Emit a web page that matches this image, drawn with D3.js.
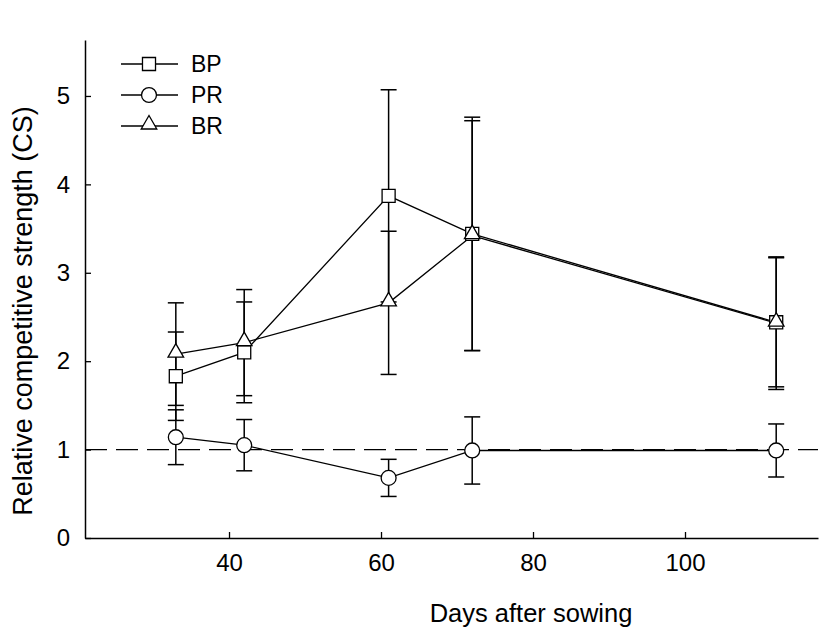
<!DOCTYPE html>
<html>
<head>
<meta charset="utf-8">
<script src="https://cdn.jsdelivr.net/npm/d3@7"></script>
<style>
  html, body { margin: 0; padding: 0; background: #fff; }
  svg text { font-family: "Liberation Sans", Arial, sans-serif; fill: #000; }
</style>
</head>
<body>
<svg id="chart" width="828" height="628"></svg>
<script>
// Days after sowing at which competitive strength was measured
const days = [33, 42, 61, 72, 112];

// Mean relative competitive strength and its error for each pairing
const bpMean = [1.83, 2.10, 3.87, 3.44, 2.44];
const bpErr  = [0.50, 0.57, 1.20, 1.32, 0.73];
const prMean = [1.14, 1.05, 0.68, 0.99, 0.99];
const prErr  = [0.31, 0.29, 0.21, 0.38, 0.30];
const brMean = [2.08, 2.21, 2.66, 3.42, 2.43];
const brErr  = [0.58, 0.60, 0.81, 1.30, 0.75];

const xTicks = [40, 60, 80, 100];
const yTicks = [0, 1, 2, 3, 4, 5];
const referenceLevel = 1;

const series = [
  { name: "BP", symbol: "square",   mean: bpMean, err: bpErr },
  { name: "PR", symbol: "circle",   mean: prMean, err: prErr },
  { name: "BR", symbol: "triangle", mean: brMean, err: brErr }
];

const svg = d3.select("#chart");
const plotLeft = 85, plotRight = 818, plotTop = 40, plotBottom = 538;

const x = d3.scaleLinear().domain([21.05, 117.5]).range([plotLeft, plotRight]);
const y = d3.scaleLinear().domain([0, 5.633]).range([plotBottom, plotTop]);

// Axes: ticks point inward, only left and bottom spines
const xAxis = d3.axisBottom(x).tickValues(xTicks).tickFormat(d3.format("d"))
  .tickSizeInner(-6).tickSizeOuter(0).tickPadding(16);
const yAxis = d3.axisLeft(y).tickValues(yTicks).tickFormat(d3.format("d"))
  .tickSizeInner(-6).tickSizeOuter(0).tickPadding(15);

const gx = svg.append("g").attr("transform", `translate(0,${plotBottom})`).call(xAxis);
const gy = svg.append("g").attr("transform", `translate(${plotLeft},0)`).call(yAxis);
[gx, gy].forEach(g => {
  g.select(".domain").attr("stroke", "#000").attr("stroke-width", 1.5);
  g.selectAll(".tick line").attr("stroke", "#000").attr("stroke-width", 1.3);
  g.selectAll(".tick text").attr("font-size", 24)
    .attr("font-family", "Liberation Sans, Arial, sans-serif").attr("fill", "#000");
});

// Axis titles
svg.append("text")
  .attr("x", 531).attr("y", 622)
  .attr("text-anchor", "middle").attr("font-size", 25.5)
  .text("Days after sowing");
svg.append("text")
  .attr("transform", `translate(32,311) rotate(-90)`)
  .attr("text-anchor", "middle").attr("font-size", 27)
  .text("Relative competitive strength (CS)");

// Reference line at CS = 1
svg.append("line")
  .attr("x1", plotLeft).attr("x2", plotRight)
  .attr("y1", y(referenceLevel)).attr("y2", y(referenceLevel))
  .attr("stroke", "#000").attr("stroke-width", 1.3)
  .attr("stroke-dasharray", "22,9");

const symbolType = { square: d3.symbolSquare, circle: d3.symbolCircle, triangle: d3.symbolTriangle };
const symbolSize = { square: 170, circle: 175, triangle: 105 };
const symbolPath = s => d3.symbol().type(symbolType[s]).size(symbolSize[s])();
const symbolShift = s => s === "triangle" ? -1.5 : 0;

const line = d3.line().x((d, i) => x(days[i])).y(d => y(d));

// Connecting lines
series.forEach(s => {
  svg.append("path").datum(s.mean)
    .attr("d", line).attr("fill", "none")
    .attr("stroke", "#000").attr("stroke-width", 1.3);
});

// Error bars with caps
const capHalf = 8;
series.forEach(s => {
  const g = svg.append("g").attr("stroke", "#000").attr("stroke-width", 1.5);
  s.mean.forEach((m, i) => {
    const cx = x(days[i]);
    const hi = y(m + s.err[i]), lo = y(m - s.err[i]);
    g.append("line").attr("x1", cx).attr("x2", cx).attr("y1", hi).attr("y2", lo);
    g.append("line").attr("x1", cx - capHalf).attr("x2", cx + capHalf).attr("y1", hi).attr("y2", hi);
    g.append("line").attr("x1", cx - capHalf).attr("x2", cx + capHalf).attr("y1", lo).attr("y2", lo);
  });
});

// Markers
series.forEach(s => {
  svg.append("g").selectAll("path").data(s.mean).join("path")
    .attr("d", symbolPath(s.symbol))
    .attr("transform", (d, i) => `translate(${x(days[i])},${y(d) + symbolShift(s.symbol)})`)
    .attr("fill", "#fff").attr("stroke", "#000").attr("stroke-width", 1.3);
});

// Legend
const legend = svg.append("g");
series.forEach((s, i) => {
  const ly = 64 + i * 31;
  legend.append("line").attr("x1", 121).attr("x2", 178).attr("y1", ly).attr("y2", ly)
    .attr("stroke", "#000").attr("stroke-width", 1.3);
  legend.append("path").attr("d", symbolPath(s.symbol))
    .attr("transform", `translate(149,${ly + symbolShift(s.symbol)})`)
    .attr("fill", "#fff").attr("stroke", "#000").attr("stroke-width", 1.3);
  legend.append("text").attr("x", 191).attr("y", ly).attr("dy", "0.36em")
    .attr("font-size", 23).text(s.name);
});
</script>
</body>
</html>
